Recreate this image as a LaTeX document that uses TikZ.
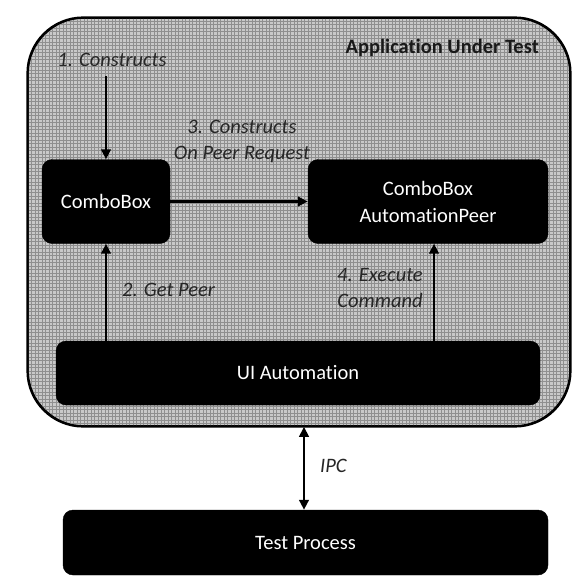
\documentclass[tikz,border=0pt]{standalone}
\usepackage{fontspec}
\setmainfont{Carlito}[Ligatures=NoCommon]
\usetikzlibrary{arrows.meta}
\begin{document}
\begin{tikzpicture}[x=1pt,y=-1pt,
  font=\fontsize{20.5}{25}\selectfont,
  blk/.style={draw=black,fill=black,text=white,rounded corners=10pt,inner sep=0pt,align=center},
  lbl/.style={inner sep=0pt,font=\fontsize{20.5}{26}\selectfont\itshape,text=black!85,align=center},
  arr/.style={line width=2.6pt,-{Triangle[length=10pt,width=9.5pt]}},
  darr/.style={line width=2.8pt,{Triangle[length=10pt,width=9.5pt]}-{Triangle[length=10pt,width=9.5pt]}}
]
\useasboundingbox (0,0) rectangle (578,584);
\fill[white] (0,0) rectangle (578,584);
% outer application box with grid texture
\node[draw=black,line width=1.6pt,fill=black!21,rounded corners=56pt,minimum width=542pt,minimum height=408pt,inner sep=0pt] (app) at (299,222) {};
\begin{scope}
  \clip[rounded corners=56pt] (28.8,18.8) rectangle (569.2,425.2);
  \draw[black!44,line width=0.5pt,step=3.5pt] (28,18) grid (570,426);
\end{scope}
\draw[black,line width=1.6pt,rounded corners=56pt] (app.north west) rectangle (app.south east);
\node[inner sep=0pt,font=\fontsize{20.5}{25}\selectfont\bfseries,text=black!90,anchor=east] (title) at (539,48) {Application Under Test};
% boxes
\node[blk,minimum width=128pt,minimum height=84pt] (cb) at (106,201.5) {ComboBox};
\node[blk,minimum width=240pt,minimum height=84pt] (peer) at (428,201.5) {ComboBox\\[2pt]AutomationPeer};
\node[blk,minimum width=484pt,minimum height=64pt] (ui) at (298,373) {UI Automation};
\node[blk,minimum width=485pt,minimum height=65pt] (test) at (305.5,542.5) {Test Process};
% labels
\node[lbl] (l1) at (112,60) {1. Constructs};
\node[lbl] (l3) at (242,141) {3. Constructs\\On Peer Request};
\node[lbl,anchor=west] (l2) at (122,290) {2. Get Peer};
\node[lbl] (l4) at (380,288) {4. Execute\\Command};
\node[lbl,anchor=west] (lipc) at (320,466) {IPC};
% connectors
\coordinate (c1) at (106,76);
\coordinate (x4) at (434,0);
\coordinate (xipc) at (304,0);
\draw[arr] (c1) -- (cb.north);
\draw[arr] (cb.east) -- (peer.west);
\draw[arr] (ui.north -| cb) -- (cb.south);
\draw[arr] (ui.north -| x4) -- (peer.south -| x4);
\draw[darr] (app.south -| xipc) -- (test.north -| xipc);
\end{tikzpicture}
\end{document}
